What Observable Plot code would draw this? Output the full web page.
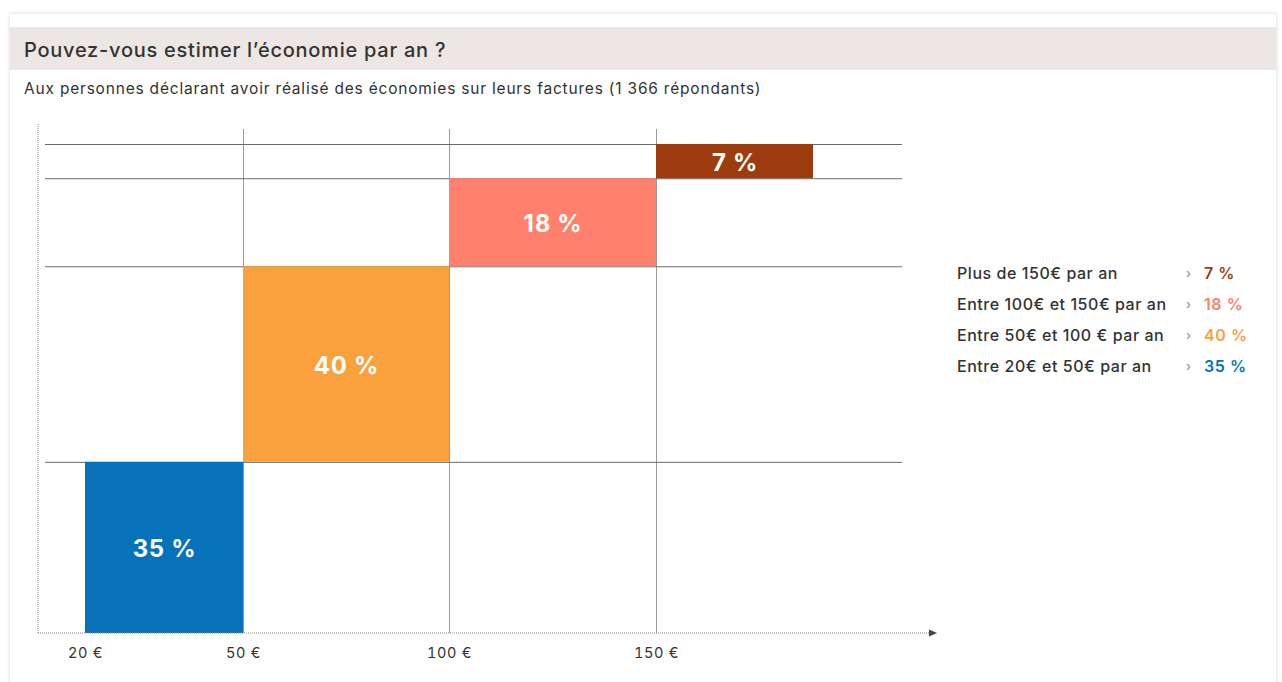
<!DOCTYPE html>
<html>
<head>
<meta charset="utf-8">
<script src="https://cdn.jsdelivr.net/npm/d3@7"></script>
<script src="https://cdn.jsdelivr.net/npm/@observablehq/plot@0.6"></script>
<style>
  html, body { margin: 0; padding: 0; background: #fff; width: 1282px; height: 682px; overflow: hidden; }
  body { font-family: Inter, "Noto Sans", sans-serif; color: #333; position: relative; }
  .card { position: absolute; left: 10px; top: 14px; width: 1266px; height: 700px; background: #fff; box-shadow: 0 0 4px rgba(0,0,0,0.18); }
  .band { position: absolute; left: 10px; top: 27px; width: 1266px; height: 43px; background: #ece7e4; }
  .title { position: absolute; left: 24px; top: 38px; font-size: 20px; letter-spacing: 0.75px; font-weight: 500; color: #333; white-space: nowrap; }
  .subtitle { position: absolute; left: 24px; top: 79px; font-size: 15.5px; letter-spacing: 0.8px; color: #333; white-space: nowrap; }
  #chart { position: absolute; left: 0; top: 110px; }
  #legend { position: absolute; left: 957px; top: 257px; }
  .row { display: flex; align-items: center; height: 31px; white-space: nowrap; font-size: 16px; letter-spacing: 0.55px; }
  .lab { width: 229px; font-weight: 500; color: #333; }
  .chev { width: 18px; color: #888; font-size: 13px; }
  .val { font-weight: 600; }
</style>
</head>
<body>
<div class="card"></div>
<div class="band"></div>
<div class="title">Pouvez-vous estimer l’économie par an ?</div>
<div class="subtitle">Aux personnes déclarant avoir réalisé des économies sur leurs factures (1 366 répondants)</div>
<div id="chart"></div>
<div id="legend"></div>
<script>
// ---- data ----
const categories = ["Entre 20€ et 50€ par an", "Entre 50€ et 100 € par an", "Entre 100€ et 150€ par an", "Plus de 150€ par an"];
const lowerBounds = [20, 50, 100, 150];
const upperBounds = [50, 100, 150, 200]; // last class is open-ended
const shares = [35, 40, 18, 7];
const colors = ["#0572b9", "#f9a23d", "#ff806c", "#9d3d0f"];
const tickValues = [20, 50, 100, 150];
const tickLabels = ["20 €", "50 €", "100 €", "150 €"];
const gridX = [50, 100, 150];

// ---- derived table ----
const cum = d3.cumsum(shares);
const rows = categories.map((c, i) => ({
  category: c,
  x1: lowerBounds[i], x2: upperBounds[i],
  y1: cum[i] - shares[i], y2: cum[i],
  share: shares[i], color: colors[i]
}));

const W = 940, H = 560;
const chart = Plot.plot({
  width: W, height: H,
  marginLeft: 45, marginRight: 38, marginTop: 19, marginBottom: 37,
  style: { fontFamily: "Inter, 'Noto Sans', sans-serif", fontSize: "14.5px", letterSpacing: "0.7px", color: "#333", background: "transparent" },
  x: {
    type: "linear",
    domain: [20, 50, 100, 150, 200],
    range: [85, 243, 449, 656, 813],
    ticks: tickValues, tickSize: 0, tickPadding: 14,
    tickFormat: d => tickLabels[tickValues.indexOf(d)],
    label: null
  },
  y: { domain: [0, 100], range: [523, 34], axis: null },
  marks: [
    Plot.ruleX(gridX, { stroke: "#9a9a9a", strokeWidth: 1 }),
    Plot.ruleY(cum, { stroke: "#6b6b6b", strokeWidth: 1 }),
    Plot.rect(rows, { x1: "x1", x2: "x2", y1: "y1", y2: "y2", fill: "color" }),
    Plot.text(rows, {
      x: d => (d.x1 + d.x2) / 2, y: d => (d.y1 + d.y2) / 2, dy: 1.5,
      text: d => d.share + " %", fill: "white", fontWeight: 700, fontSize: 24
    })
  ]
});

// decorative dotted axes with arrow
const svg = d3.select(chart);
const y0 = chart.scale("y").apply(0);
svg.append("line").attr("x1", 38).attr("x2", 38).attr("y1", 14).attr("y2", y0)
  .attr("stroke", "#888").attr("stroke-dasharray", "1,1");
svg.append("line").attr("x1", 38).attr("x2", 930).attr("y1", y0).attr("y2", y0)
  .attr("stroke", "#888").attr("stroke-dasharray", "1,1");
svg.append("path").attr("d", `M929,${y0-3.5} L937,${y0} L929,${y0+3.5} Z`).attr("fill", "#444");

document.getElementById("chart").appendChild(chart);

// legend (top to bottom: highest class first)
const legend = d3.select("#legend");
for (let i = categories.length - 1; i >= 0; i--) {
  const r = legend.append("div").attr("class", "row");
  r.append("span").attr("class", "lab").text(categories[i]);
  r.append("span").attr("class", "chev").text("›");
  r.append("span").attr("class", "val").style("color", colors[i]).text(shares[i] + " %");
}
</script>
</body>
</html>
